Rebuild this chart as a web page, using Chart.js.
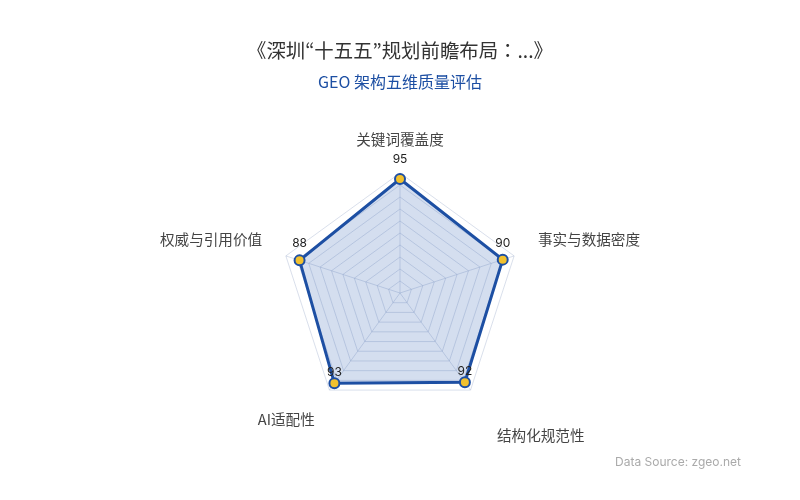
<!DOCTYPE html>
<html>
<head>
<meta charset="utf-8">
<script src="https://cdn.jsdelivr.net/npm/chart.js@4"></script>
<style>
  html, body { margin: 0; padding: 0; background: #ffffff; }
  #wrap { position: relative; width: 800px; height: 500px; }
  canvas { display: block; }
</style>
</head>
<body>
<div id="wrap"><canvas id="c" width="800" height="500"></canvas></div>
<script>
const titleText = '《深圳“十五五”规划前瞻布局：...》';
const subtitleText = 'GEO 架构五维质量评估';
const sourceText = 'Data Source: zgeo.net';
const categories = ['关键词覆盖度', '事实与数据密度', '结构化规范性', 'AI适配性', '权威与引用价值'];
const scores = [95, 90, 92, 93, 88];
const scaleMin = 0;
const scaleMax = 100;
const scaleStep = 10;

const FONT = "Inter, 'Noto Sans CJK SC', 'Noto Sans', sans-serif";
const CJK_FONT = "'Noto Sans CJK SC', Inter, sans-serif";
const TITLE_FONT = "'Noto Sans CJK JP', 'Noto Sans CJK SC', sans-serif";

const valueLabels = {
  id: 'valueLabels',
  afterDatasetsDraw(chart) {
    const ctx = chart.ctx;
    const meta = chart.getDatasetMeta(0);
    const scale = chart.scales.r;
    ctx.save();
    ctx.font = '12px ' + FONT;
    ctx.fillStyle = '#222222';
    ctx.textAlign = 'center';
    ctx.textBaseline = 'middle';
    meta.data.forEach((pt, i) => {
      const ang = scale.getIndexAngle(i);
      const off = 15 + 5 * Math.cos(ang);
      ctx.fillText(String(scores[i]), pt.x, pt.y - off);
    });
    ctx.restore();
  }
};

const sourceNote = {
  id: 'sourceNote',
  afterDraw(chart) {
    const ctx = chart.ctx;
    ctx.save();
    ctx.font = '12px ' + FONT;
    ctx.fillStyle = '#aaaaaa';
    ctx.textAlign = 'right';
    ctx.textBaseline = 'middle';
    ctx.fillText(sourceText, 741, 462);
    ctx.restore();
  }
};

new Chart(document.getElementById('c'), {
  type: 'radar',
  data: {
    labels: categories,
    datasets: [{
      data: scores,
      borderColor: '#1d4fa3',
      borderWidth: 3,
      backgroundColor: 'rgba(40, 90, 175, 0.2)',
      fill: true,
      pointRadius: 5,
      pointBorderWidth: 2,
      pointBackgroundColor: '#f2c12e',
      pointBorderColor: '#1d4fa3',
      tension: 0
    }]
  },
  options: {
    responsive: false,
    animation: false,
    layout: { padding: { top: 0, bottom: 51, left: 0, right: 0 } },
    plugins: {
      legend: { display: false },
      tooltip: { enabled: false },
      title: {
        display: true,
        text: titleText,
        color: '#333333',
        font: { family: TITLE_FONT, size: 19.4, weight: 'normal' },
        padding: { top: 39, bottom: 8 }
      },
      subtitle: {
        display: true,
        text: subtitleText,
        color: '#1d4fa3',
        font: { family: CJK_FONT, size: 16, weight: 'normal' },
        padding: { top: 2, bottom: 32 }
      }
    },
    scales: {
      r: {
        min: scaleMin,
        max: scaleMax,
        ticks: { stepSize: scaleStep, display: false },
        grid: { color: 'rgba(170, 185, 210, 0.45)', lineWidth: 1 },
        angleLines: { color: 'rgba(170, 185, 210, 0.45)', lineWidth: 1 },
        pointLabels: {
          color: '#444444',
          font: { family: CJK_FONT, size: 14.6 },
          padding: (ctx) => (ctx.index === 2 ? 45 : 25)
        }
      }
    }
  },
  plugins: [valueLabels, sourceNote]
});
</script>
</body>
</html>
